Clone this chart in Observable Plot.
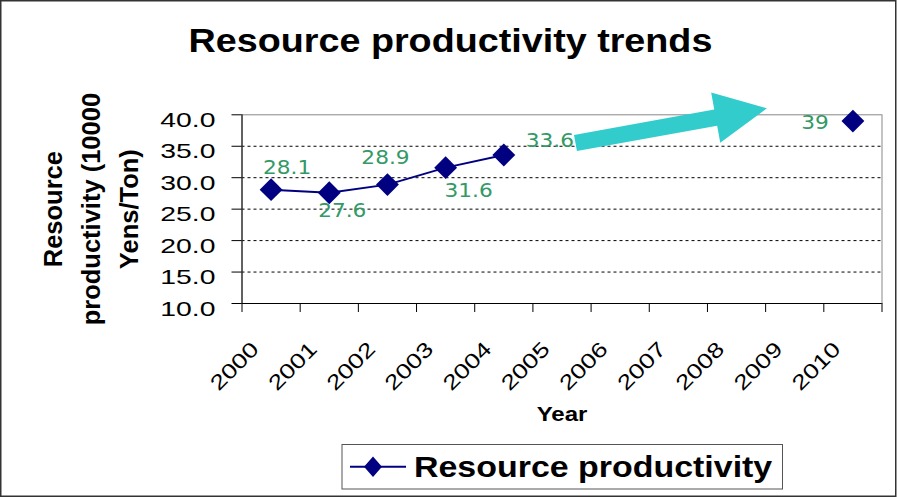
<!DOCTYPE html>
<html><head><meta charset="utf-8">
<script src="https://cdn.jsdelivr.net/npm/d3@7"></script>
<script src="https://cdn.jsdelivr.net/npm/@observablehq/plot@0.6"></script>
<style>body{margin:0;background:#fff}#chart{width:897px;height:498px}</style>
</head><body><div id="chart"></div>
<script>
// ---- data ----
const years = [2000, 2001, 2002, 2003, 2004, 2005, 2006, 2007, 2008, 2009, 2010];
const productivity = [28.1, 27.6, 28.9, 31.6, 33.6, null, null, null, null, null, 39];
const yTicks = [10, 15, 20, 25, 30, 35, 40];
const gridValues = [15, 20, 25, 30, 35];
const xDomain = [1999.5, 2010.5];
const xBoundaries = [1999.5, 2000.5, 2001.5, 2002.5, 2003.5, 2004.5, 2005.5, 2006.5, 2007.5, 2008.5, 2009.5, 2010.5];
const yDomain = [10, 40];
const titleText = "Resource productivity trends";
const yTitle = "Resource\nproductivity (10000\nYens/Ton)";
const xTitle = "Year";
const seriesName = "Resource productivity";
// annotation arrow (data coordinates: year, value)
const arrowFrom = [2005.24, 35.44];
const arrowTo = [2008.53, 40.95];
// label placement offsets (px)
const labelOffsets = [[16, -22], [13, 18], [-2, -27], [23, 23], [46, -14], null, null, null, null, null, [-38, 2]];

const NAVY = "#000080", GREEN = "#339966", CYAN = "#33CCCC";
const data = years.map((year, i) => ({year, value: productivity[i] ?? NaN}));
const pts = data.filter(d => !isNaN(d.value));
const fmtTick = d3.format(".1f");

const labelMarks = data.map((d, i) => labelOffsets[i] && !isNaN(d.value)
  ? Plot.text([d], {x: "year", y: "value", text: e => String(e.value), dx: labelOffsets[i][0], dy: labelOffsets[i][1],
      fill: GREEN, fontSize: 19, fontFamily: "DejaVu Sans, Verdana, sans-serif", textAnchor: "middle", lineAnchor: "middle"})
  : null).filter(Boolean);

const chart = Plot.plot({
  width: 897, height: 498,
  marginLeft: 241.5, marginRight: 15.5, marginTop: 114.3, marginBottom: 195,
  style: {fontFamily: "Liberation Sans, Arial, sans-serif", fontSize: "19px", color: "black", background: "white", overflow: "visible"},
  x: {type: "linear", domain: xDomain, axis: null},
  y: {domain: yDomain, axis: null},
  marks: [
    Plot.ruleY(gridValues, {y: d => d, stroke: "black", strokeWidth: 1, strokeDasharray: "3,3"}),
    Plot.frame({stroke: "#888"}),
    Plot.ruleX([xDomain[0]], {x: d => d, stroke: "black"}),
    Plot.ruleY([yDomain[0]], {y: d => d, stroke: "black"}),
    Plot.axisY({ticks: yTicks, tickSize: 10, tickFormat: () => "", label: null}),
    Plot.axisX({ticks: xBoundaries, tickSize: 9, tickFormat: () => "", label: null}),
    Plot.text(yTicks, {y: d => d, frameAnchor: "left", text: fmtTick, textAnchor: "end", dx: -26.5, dy: 5.5, fontSize: 21}),
    Plot.text(years, {x: d => d, frameAnchor: "bottom", text: d => String(d), rotate: -45, textAnchor: "end", lineAnchor: "bottom", dx: -11, dy: 47, fontSize: 21}),
    Plot.line(data, {x: "year", y: "value", stroke: NAVY, strokeWidth: 2}),
    Plot.dot(pts, {x: "year", y: "value", symbol: "diamond2", r: 10.3, fill: NAVY, stroke: "none"}),
    ...labelMarks,
    Plot.text([xTitle], {frameAnchor: "bottom", text: d => d, textAnchor: "middle", fontWeight: "bold", fontSize: 20, lineAnchor: "bottom", dy: 117}),
    Plot.text([yTitle], {frameAnchor: "left", text: d => d, rotate: -90, textAnchor: "middle", dx: -154, lineAnchor: "middle", lineHeight: 1.5, fontWeight: "bold", fontSize: 25.5})
  ]
});
document.getElementById("chart").appendChild(chart);

const svg = d3.select(chart);
const sx = chart.scale("x"), sy = chart.scale("y");

// arrow annotation
{
  const T = [sx.apply(arrowFrom[0]), sy.apply(arrowFrom[1])];
  const P = [sx.apply(arrowTo[0]), sy.apply(arrowTo[1])];
  const len = Math.hypot(P[0] - T[0], P[1] - T[1]);
  const u = [(P[0] - T[0]) / len, (P[1] - T[1]) / len];
  const n = [-u[1], u[0]];
  const headLen = 52, sh = 8.2, hh = 25.5;
  const B = [P[0] - u[0] * headLen, P[1] - u[1] * headLen];
  const pt = (o, k) => [o[0] + n[0] * k, o[1] + n[1] * k];
  const poly = [pt(T, sh), pt(B, sh), pt(B, hh), P, pt(B, -hh), pt(B, -sh), pt(T, -sh)];
  svg.append("path").attr("d", "M" + poly.map(p => p.join(",")).join("L") + "Z").attr("fill", CYAN);
}

// title
svg.append("text").attr("class", "title").attr("x", 450.5).attr("y", 51.7).attr("text-anchor", "middle")
  .attr("font-weight", "bold").attr("font-size", 32.5).attr("fill", "black").text(titleText);

// legend
const lg = svg.append("g");
lg.append("rect").attr("x", 342).attr("y", 444.5).attr("width", 440.5).attr("height", 44.5).attr("fill", "white").attr("stroke", "#555");
lg.append("line").attr("x1", 350).attr("x2", 406).attr("y1", 466.7).attr("y2", 466.7).attr("stroke", NAVY).attr("stroke-width", 2);
lg.append("path").attr("d", "M373,456.5L382,466.7L373,476.9L364,466.7Z").attr("fill", NAVY);
lg.append("text").attr("class", "legend-text").attr("x", 414).attr("y", 476.6).attr("text-anchor", "start")
  .attr("font-weight", "bold").attr("font-size", 29).attr("fill", "black").text(seriesName);

// border
svg.append("rect").attr("x", 0.75).attr("y", 0.75).attr("width", 895).attr("height", 495.5).attr("fill", "none").attr("stroke", "#333").attr("stroke-width", 1.5);

// horizontal stretch of single-line texts to mimic the reference's widened glyphs
const yTickStr = new Set(yTicks.map(fmtTick));
const yearStr = new Set(years.map(String));
const labelStr = new Set(pts.map(d => String(d.value)));
function stretchEl(el, f) {
  const L = el.getComputedTextLength();
  if (L > 0) { el.setAttribute("textLength", (L * f).toFixed(2)); el.setAttribute("lengthAdjust", "spacingAndGlyphs"); }
}
svg.selectAll("text").each(function () {
  if (this.querySelector("tspan")) return;
  const t = this.textContent;
  if (yTickStr.has(t)) stretchEl(this, 1.35);
  else if (yearStr.has(t)) stretchEl(this, 1.25);
  else if (labelStr.has(t)) stretchEl(this, 1.14);
  else if (t === xTitle) stretchEl(this, 1.2);
  else if (t === titleText) stretchEl(this, 1.16);
  else if (t === seriesName) stretchEl(this, 1.17);
});
</script>
</body></html>
